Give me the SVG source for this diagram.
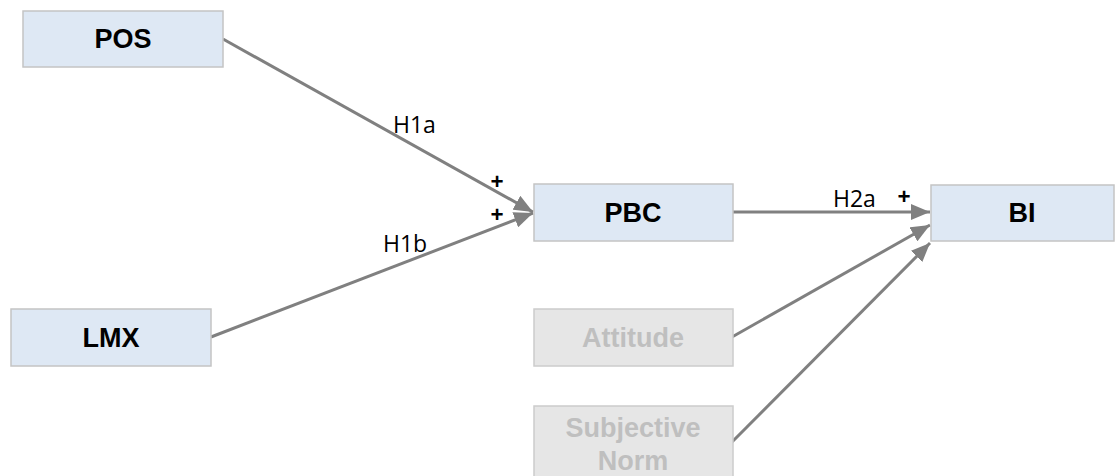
<svg xmlns="http://www.w3.org/2000/svg" width="1115" height="476" viewBox="0 0 1115 476">
<defs>
<style>
.box{fill:#dee8f4;stroke:#c4c4c4;stroke-width:1.5}
.gbox{fill:#e6e6e6;stroke:#cccccc;stroke-width:1.5}
.nt{font-family:"Liberation Sans",Arial,sans-serif;font-weight:bold;font-size:27px;fill:#000;text-anchor:middle}
.gt{font-family:"Liberation Sans",Arial,sans-serif;font-weight:bold;font-size:27px;fill:#bfbfbf;text-anchor:middle}
.lbl{font-family:"Open Sans","Noto Sans",sans-serif;font-size:23px;fill:#000}
.pl{font-family:"Open Sans","Noto Sans",sans-serif;font-size:23px;font-weight:bold;fill:#000;text-anchor:middle}
.edge{stroke:#808080;stroke-width:3;fill:none;marker-end:url(#arr)}
</style>
<marker id="arr" markerUnits="userSpaceOnUse" markerWidth="20" markerHeight="16" viewBox="0 0 20 16" refX="19" refY="8" orient="auto">
<path d="M0,0 L19,8 L0,16 Z" fill="#808080"/>
</marker>
</defs>
<g id="connectors">
<line class="edge" x1="223" y1="39" x2="533" y2="212"/>
<line class="edge" x1="211" y1="337" x2="533" y2="213"/>
<line class="edge" x1="733" y1="212" x2="930" y2="212"/>
<line class="edge" x1="732" y1="337" x2="930" y2="225"/>
<line class="edge" x1="732" y1="442" x2="930" y2="243"/>
<text class="lbl" x="393" y="133">H1a</text>
<text class="lbl" x="383" y="252">H1b</text>
<text class="lbl" x="833" y="207">H2a</text>
<text class="pl" x="497" y="190">+</text>
<text class="pl" x="497" y="223">+</text>
<text class="pl" x="904" y="205">+</text>
</g>
<g id="POS">
<rect class="box" x="23" y="11" width="200" height="56"/>
<text class="nt" x="123" y="48">POS</text>
</g>
<g id="LMX">
<rect class="box" x="11" y="309" width="200" height="57"/>
<text class="nt" x="111" y="347">LMX</text>
</g>
<g id="PBC">
<rect class="box" x="534" y="184" width="199" height="57"/>
<text class="nt" x="633" y="222">PBC</text>
</g>
<g id="BI">
<rect class="box" x="931" y="185" width="183" height="56"/>
<text class="nt" x="1022" y="222">BI</text>
</g>
<g id="Attitude">
<rect class="gbox" x="534" y="309" width="199" height="57"/>
<text class="gt" x="633" y="347">Attitude</text>
</g>
<g id="SubjectiveNorm">
<rect class="gbox" x="534" y="406" width="199" height="72"/>
<text class="gt" x="633" y="437">Subjective</text>
<text class="gt" x="633" y="470">Norm</text>
</g>
</svg>
